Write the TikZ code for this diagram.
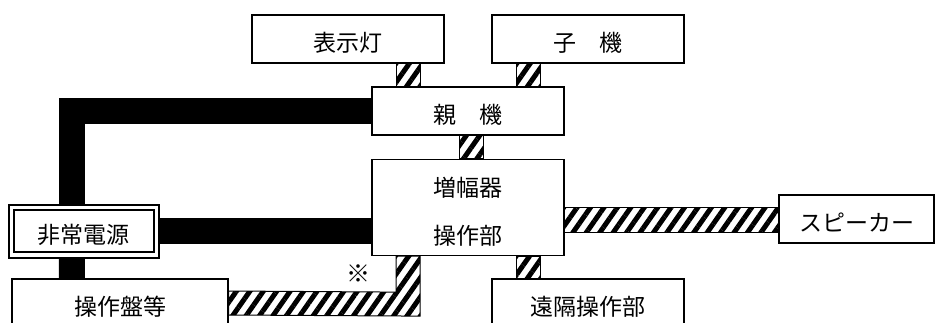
\documentclass[tikz,border=0pt]{standalone}
\usepackage{fontspec}
\newfontfamily\jpfont{Noto Sans CJK JP}
\usetikzlibrary{calc, patterns.meta, backgrounds}

\tikzset{
  box/.style={draw, line width=1.2pt, fill=white, minimum width=192pt, minimum height=48pt, inner sep=0pt, font=\jpfont\fontsize{23}{28}\selectfont},
  unit/.style={box, text height=25pt, text depth=0pt},
  hatch/.style={draw, line width=1pt, pattern={Lines[angle=55, distance=11pt, line width=5pt]}},
  power/.style={line width=26pt, line join=miter, draw=black},
}

\begin{document}
\begin{tikzpicture}[x=1pt, y=-1pt]
    \useasboundingbox (0,0) rectangle (936,322);
    % Coordinates
    \coordinate (LAMP) at (348,39);
    \coordinate (SUB) at (588,39);
    \coordinate (MASTER) at (468,111);
    \coordinate (AMP) at (468,207.5);
    \coordinate (SPK) at (856.5,219);
    \coordinate (REMOTE) at (588,303);
    \coordinate (PANEL) at (120,303);
    \coordinate (POWER) at (83.8,231.4);

    % Units
    \node[unit] (lamp) at (LAMP) {表示灯};
    \node[unit] (sub) at (SUB) {子　機};
    \node[unit] (master) at (MASTER) {親　機};
    \node[box, minimum height=96pt, align=center] (amp) at (AMP) {\rule{0pt}{28pt}増幅器\\[20pt]操作部};
    \node[unit, minimum width=155pt] (spk) at (SPK) {スピーカー};
    \node[unit] (remote) at (REMOTE) {遠隔操作部};
    \node[unit, minimum width=216pt] (panel) at (PANEL) {操作盤等};
    % Power source (double frame)
    \node[unit, line width=2pt, double=white, double distance=3.5pt, minimum width=145pt, minimum height=47.6pt] (power) at (POWER) {非常電源};
    % Mark
    \node[font=\jpfont\fontsize{24}{26}\selectfont, inner sep=0pt] (note) at (358,274) {※};

    \begin{scope}[on background layer]
    % Power lines
    \draw[power] ($(power.north)+(-12,0)$) |- (master.west);
    \draw[power] (power.east) -- (power.east -| amp.west);
    \draw[power] ($(power.south)+(-12,0)$) -- ($(panel.north)+(-48,0)$);

    % Signal lines
    \draw[hatch] ($(lamp.south)+(48,0)$) rectangle ($(master.north)+(-48,0)$);
    \draw[hatch] ($(sub.south)+(-72,0)$) rectangle ($(master.north)+(72,0)$);
    \draw[hatch] ($(master.south)+(-9,0)$) rectangle ($(amp.north)+(15,0)$);
    \draw[hatch] ($(amp.south)+(48,0)$) rectangle ($(remote.north)+(-48,0)$);
    \draw[hatch] ($(amp.east)+(0,-0.5)$) rectangle ($(spk.west)+(0,13)$);
    \draw[hatch] ($(amp.south)+(-72,0)$) -- ($(amp.south)+(-48,0)$) -- ($(amp.south)+(-48,60)$)
        -- ($(panel.east)+(0,12)$) -- ($(panel.east)+(0,-12)$) -- ($(amp.south)+(-72,36)$) -- cycle;
    \end{scope}
\end{tikzpicture}
\end{document}
